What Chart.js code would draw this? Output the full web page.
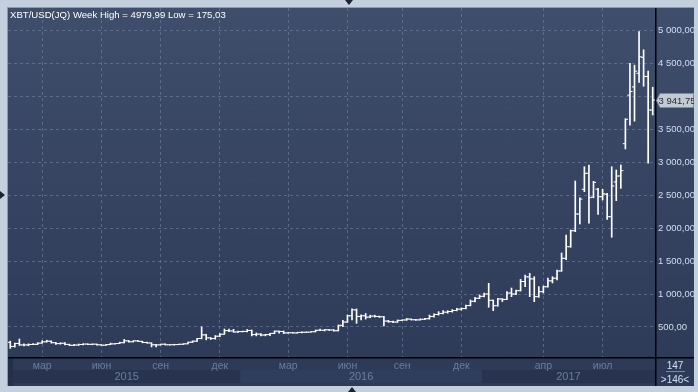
<!DOCTYPE html>
<html lang="ru">
<head>
<meta charset="UTF-8">
<title>XBT/USD(JQ) Week</title>
<script src="https://cdn.jsdelivr.net/npm/chart.js@4"></script>
<style>
  body { margin: 0; width: 698px; height: 392px; background: #c5d0df; position: relative; overflow: hidden;
         font-family: "Liberation Sans", Arial, sans-serif; }
  #panel { position: absolute; left: 8px; top: 8px; width: 686px; height: 378px;
           background: linear-gradient(#3f4e6b, #2c3957); }
  #frame { position: absolute; left: 7px; top: 7px; width: 687px; height: 379px; border-left: 1px solid #8d9ab0; border-top: 1px solid #8d9ab0; box-sizing: border-box; }
  .title { position: absolute; left: 10px; top: 9px; color: #fff; font-size: 9.6px; line-height: 12px; white-space: nowrap; }
  .count { position: absolute; left: 656px; width: 38px; text-align: center; color: #d6e0f0; font-size: 10px; line-height: 12px; }
  .sep { position: absolute; left: 666px; top: 371px; width: 19px; height: 1px; background: #7a889f; }
  .tri { position: absolute; width: 0; height: 0; }
</style>
</head>
<body>
<div id="frame"></div>
<div id="panel"><canvas id="chart"></canvas></div>
<div class="title">XBT/USD(JQ) Week High = 4979,99 Low = 175,03</div>
<div class="count" style="top:360px">147</div>
<div class="sep"></div>
<div class="count" style="top:374px">&gt;146&lt;</div>
<div class="tri" style="left:345px;top:0;border-left:4px solid transparent;border-right:4px solid transparent;border-top:5px solid #1c2335"></div>
<div class="tri" style="left:0;top:191px;border-top:4px solid transparent;border-bottom:4px solid transparent;border-left:5px solid #1c2335"></div>
<div class="tri" style="left:348px;top:387px;border-left:4px solid transparent;border-right:4px solid transparent;border-bottom:5px solid #1c2335"></div>
<script>
// weekly bars (week start dates)
const weeks = [
  '12.01.15','19.01.15','26.01.15','02.02.15','09.02.15','16.02.15','23.02.15','02.03.15','09.03.15','16.03.15',
  '23.03.15','30.03.15','06.04.15','13.04.15','20.04.15','27.04.15','04.05.15','11.05.15','18.05.15','25.05.15',
  '01.06.15','08.06.15','15.06.15','22.06.15','29.06.15','06.07.15','13.07.15','20.07.15','27.07.15','03.08.15',
  '10.08.15','17.08.15','24.08.15','31.08.15','07.09.15','14.09.15','21.09.15','28.09.15','05.10.15','12.10.15',
  '19.10.15','26.10.15','02.11.15','09.11.15','16.11.15','23.11.15','30.11.15','07.12.15','14.12.15','21.12.15',
  '28.12.15','01.01.16','04.01.16','11.01.16','18.01.16','25.01.16','01.02.16','08.02.16','15.02.16','22.02.16',
  '29.02.16','07.03.16','14.03.16','21.03.16','28.03.16','04.04.16','11.04.16','18.04.16','25.04.16','02.05.16',
  '09.05.16','16.05.16','23.05.16','30.05.16','06.06.16','13.06.16','20.06.16','27.06.16','04.07.16','11.07.16',
  '18.07.16','25.07.16','01.08.16','08.08.16','15.08.16','22.08.16','29.08.16','05.09.16','12.09.16','19.09.16',
  '26.09.16','03.10.16','10.10.16','17.10.16','24.10.16','31.10.16','07.11.16','14.11.16','21.11.16','28.11.16',
  '05.12.16','12.12.16','19.12.16','26.12.16','01.01.17','02.01.17','09.01.17','16.01.17','23.01.17','30.01.17',
  '06.02.17','13.02.17','20.02.17','27.02.17','06.03.17','13.03.17','20.03.17','27.03.17','03.04.17','10.04.17',
  '24.04.17','01.05.17','08.05.17','15.05.17','22.05.17','29.05.17','05.06.17','12.06.17','19.06.17','26.06.17',
  '03.07.17','10.07.17','17.07.17','24.07.17','31.07.17','07.08.17','14.08.17','21.08.17','28.08.17','04.09.17',
  '11.09.17','18.09.17'
];

const open = [
  268,205,250,228,228,235,237,255,275,285, 262,248,254,236,222,227,235,241,237,240,
  230,224,233,244,249,262,290,276,290,282, 265,258,230,229,239,230,231,233,238,245,
  269,285,325,380,335,325,360,390,445,440, 425,430,433,448,385,392,378,385,403,437,
  432,410,413,410,418,420,422,428,450,450, 458,455,443,525,575,670,760,660,670,650,
  665,660,655,590,580,575,600,607,620,610, 608,617,625,660,690,705,725,735,750,770,
  780,825,890,935,965,1000,905,823,925,918, 1015,1000,1051,1190,1260,1230,960,1036,1110,1200,
  1240,1350,1542,1718,1960,2214,2588,2831,2470,2590, 2476,2513,2173,2700,2790,3280,4016,4141,4348,4590,
  4300,3791
];
const high = [
  285,255,318,245,245,250,262,292,300,290, 268,260,262,240,237,242,247,245,243,241,
  232,233,256,250,270,312,296,293,298,285, 272,260,236,240,245,234,239,242,246,272,
  289,330,502,390,340,370,400,470,470,465, 440,438,462,455,410,400,390,405,440,440,
  440,420,418,420,425,425,432,454,468,462, 460,460,530,600,682,775,773,685,705,680,
  680,665,660,600,590,607,610,630,622,615, 625,632,682,700,733,748,748,765,784,790,
  834,910,950,986,1016,1163,910,935,930,1036, 1091,1060,1223,1289,1315,1263,1112,1122,1243,1263,
  1365,1623,1895,1971,2714,2460,2931,2957,2709,2603, 2588,2527,2931,2881,2957,3660,4500,4471,4979.99,4704,
  4383,4136
];
const low = [
  175.03,195,220,212,215,232,233,254,270,255, 236,240,230,218,218,218,228,232,230,226,
  220,222,232,240,247,258,270,272,280,260, 256,198,199,225,228,225,226,232,235,245,
  263,280,320,305,310,315,355,390,430,420, 418,425,425,365,365,365,365,370,398,405,
  400,405,406,405,410,415,420,425,445,440, 445,437,440,505,570,607,556,607,620,640,
  650,645,515,571,565,570,595,600,605,600, 605,612,620,650,680,700,708,725,745,755,
  775,820,880,930,955,800,747,815,885,915, 960,990,1045,1112,960,884,950,1016,1105,1168,
  1213,1345,1520,1709,1946,2062,2552,2073,2460,2209, 2426,2133,1861,2416,2603,3200,3560,3622,4211,4152,
  2983,3715
];
const close = [
  205,250,228,228,235,237,255,275,285,262, 248,254,236,222,227,235,241,237,240,230,
  224,233,244,249,262,290,276,290,282,265, 258,230,229,239,230,231,233,238,245,269,
  285,325,380,335,325,360,390,445,440,425, 430,433,448,385,392,378,385,403,437,432,
  410,413,410,418,420,422,428,450,450,458, 455,443,525,575,670,760,660,670,650,665,
  660,655,590,580,575,600,607,620,610,608, 617,625,660,690,705,725,735,750,770,780,
  825,890,935,965,1000,905,823,925,918,1015, 1000,1051,1190,1260,1230,960,1036,1110,1200,1240,
  1350,1542,1718,1960,2214,2440,2831,2461,2694,2476, 2520,2173,2639,2790,2871,3650,4072,4380,4598,4300,
  3791,3941.75
];

// axis labels
const monthTickIdx = [7, 20, 33, 46, 61, 74, 86, 99, 117, 130];
const monthTickText = ['мар', 'июн', 'сен', 'дек', 'мар', 'июн', 'сен', 'дек', 'апр', 'июл'];
const yearStartIdx = [0, 51, 104];
const yearText = ['2015', '2016', '2017'];
const priceTicks = [500, 1000, 1500, 2000, 2500, 3000, 3500, 4000, 4500, 5000];

function fmt(v) {
  const parts = v.toFixed(2).split('.');
  return parts[0].replace(/\B(?=(\d{3})+(?!\d))/g, ' ') + ',' + parts[1];
}

const FONT = '"Liberation Sans", Arial, sans-serif';
Chart.defaults.font.family = FONT;
Chart.defaults.font.size = 10;

const panelPlugin = {
  id: 'panel',
  beforeDraw(chart) {
    const { ctx, chartArea: a, width, height } = chart;
    const x = chart.scales.x;
    const half = (x.getPixelForValue(1) - x.getPixelForValue(0)) / 2;
    ctx.save();
    ctx.fillStyle = '#2d3a58';
    ctx.fillRect(0, a.bottom, width, height - a.bottom);
    ctx.fillStyle = '#252f49';
    ctx.fillRect(0, a.bottom, 5, height - a.bottom);
    yearStartIdx.forEach((s, k) => {
      const x0 = k === 0 ? 5 : x.getPixelForValue(s) - half;
      const x1 = k < yearStartIdx.length - 1 ? x.getPixelForValue(yearStartIdx[k + 1]) - half : a.right;
      ctx.fillStyle = k % 2 ? '#303e5d' : '#28344f';
      ctx.fillRect(x0, a.bottom + 13, x1 - x0, 13);
      ctx.fillStyle = '#6b7d9e';
      ctx.font = '11px ' + FONT;
      ctx.textAlign = 'center';
      ctx.textBaseline = 'middle';
      ctx.fillText(yearText[k], (x0 + x1) / 2, a.bottom + 20);
    });
    ctx.restore();
  },
  afterDraw(chart) {
    const { ctx, chartArea: a, width, height } = chart;
    const y = chart.scales.y;
    ctx.save();
    ctx.strokeStyle = '#000';
    ctx.lineWidth = 1.5;
    ctx.beginPath();
    ctx.moveTo(a.right + 0.75, 0);
    ctx.lineTo(a.right + 0.75, height);
    ctx.moveTo(0, a.bottom + 0.75);
    ctx.lineTo(width, a.bottom + 0.75);
    ctx.stroke();
    // last price marker
    const last = close[close.length - 1];
    const py = Math.round(y.getPixelForValue(last)) + 0.5;
    const bx = a.right + 5;
    ctx.beginPath();
    ctx.moveTo(a.right + 1.5, py);
    ctx.lineTo(bx, py - 7);
    ctx.lineTo(width - 0.5, py - 7);
    ctx.lineTo(width - 0.5, py + 7);
    ctx.lineTo(bx, py + 7);
    ctx.closePath();
    ctx.fillStyle = '#c4cad4';
    ctx.fill();
    ctx.strokeStyle = '#7f8a9c';
    ctx.lineWidth = 1;
    ctx.stroke();
    ctx.fillStyle = '#262b35';
    ctx.font = '9.5px ' + FONT;
    ctx.textAlign = 'left';
    ctx.textBaseline = 'middle';
    ctx.fillText(fmt(last), a.right + 3.5, py + 0.5);
    ctx.restore();
  }
};

new Chart(document.getElementById('chart'), {
  data: {
    labels: weeks,
    datasets: [
      {
        type: 'bar',
        data: low.map((l, i) => [l, high[i]]),
        backgroundColor: '#ffffff',
        barThickness: 1,
        borderWidth: 0
      },
      {
        type: 'line',
        data: open,
        showLine: false,
        pointStyle: 'dash',
        rotation: 180,
        pointRadius: 2.6,
        pointBorderWidth: 1,
        pointBorderColor: '#ffffff',
        pointBackgroundColor: '#ffffff'
      },
      {
        type: 'line',
        data: close,
        showLine: false,
        pointStyle: 'dash',
        rotation: 0,
        pointRadius: 2.6,
        pointBorderWidth: 1,
        pointBorderColor: '#ffffff',
        pointBackgroundColor: '#ffffff'
      }
    ]
  },
  options: {
    responsive: true,
    maintainAspectRatio: false,
    animation: false,
    events: [],
    layout: { padding: 0, autoPadding: false },
    plugins: { legend: { display: false }, tooltip: { enabled: false } },
    scales: {
      x: {
        type: 'category',
        offset: true,
        afterFit: s => { s.height = 29; s.paddingLeft = 0; s.paddingRight = 0; },
        grid: {
          offset: false,
          drawTicks: false,
          color: c => monthTickIdx.includes(c.index) ? 'rgba(112,130,165,0.6)' : 'transparent'
        },
        border: { display: false, dash: [3, 3] },
        ticks: {
          autoSkip: false,
          maxRotation: 0,
          minRotation: 0,
          padding: 3,
          color: '#6b7d9e',
          font: { size: 10.5 },
          callback: (v, i) => {
            const k = monthTickIdx.indexOf(i);
            return k >= 0 ? monthTickText[k] : '';
          }
        }
      },
      y: {
        position: 'right',
        min: 45,
        max: 5338,
        afterFit: s => { s.width = 39; s.paddingTop = 0; s.paddingBottom = 0; },
        afterBuildTicks: s => { s.ticks = priceTicks.map(v => ({ value: v })); },
        grid: { drawTicks: false, color: 'rgba(112,130,165,0.6)' },
        border: { display: false, dash: [3, 3] },
        ticks: {
          padding: 3,
          color: '#d3def0',
          font: { size: 9.5 },
          callback: v => fmt(v)
        }
      }
    }
  },
  plugins: [panelPlugin]
});
</script>
</body>
</html>
